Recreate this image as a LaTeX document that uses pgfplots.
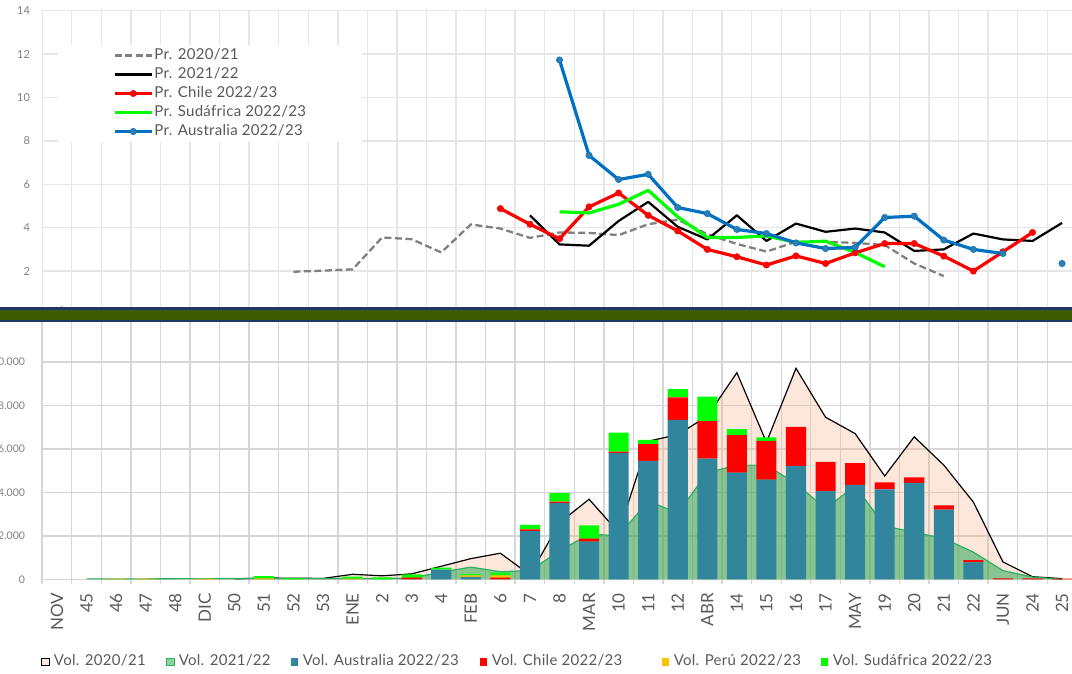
\documentclass[border=0pt]{standalone}
\usepackage{pgfplots}
\usepackage{pgfplotstable}
\pgfplotsset{compat=1.18}
\usepackage{fontspec}
\setmainfont{Lato}
\newfontfamily\legfont{Lato}[LetterSpace=2]

\definecolor{gridtop}{HTML}{E6E6E6}
\definecolor{gridbot}{HTML}{D6D6D6}
\definecolor{ticktxt}{HTML}{808080}
\definecolor{labtxt}{HTML}{595959}
\definecolor{gr2021}{HTML}{808080}
\definecolor{chile}{HTML}{FF0000}
\definecolor{sa}{HTML}{00FF00}
\definecolor{aus}{HTML}{0070C0}
\definecolor{ausmark}{HTML}{2E7FB0}
\definecolor{peachbase}{HTML}{F4B183}
\definecolor{peachlegend}{HTML}{FCE9DB}
\definecolor{vgreenbase}{HTML}{16A34A}
\definecolor{vgreenlegend}{HTML}{8AD1A4}
\definecolor{vgreenline}{HTML}{2EAF62}
\definecolor{tealbar}{HTML}{31859C}
\definecolor{peru}{HTML}{FFC000}
\definecolor{bandnavy}{HTML}{1F3864}
\definecolor{bandgreen}{HTML}{3D5C00}

\newcommand{\LE}[2]{\makebox[#1][l]{\hspace*{4.4pt}#2}}

\pgfplotstableread{
x aus chile peru sa
0 0 0 0 0
1 0 0 0 0
2 0 0 30 0
3 0 0 30 0
4 0 0 0 0
5 0 0 30 0
6 0 0 0 0
7 0 0 40 110
8 0 0 0 40
9 0 0 0 0
10 0 0 30 90
11 0 0 0 90
12 0 80 0 150
13 450 0 0 90
14 110 0 75 60
15 0 75 110 120
16 2220 80 0 200
17 3500 75 0 385
18 1730 140 0 615
19 5800 70 0 870
20 5450 770 0 185
21 7330 1040 0 370
22 5550 1720 0 1130
23 4900 1730 0 275
24 4580 1790 0 155
25 5210 1800 0 0
26 4050 1350 0 0
27 4340 1000 0 0
28 4140 320 0 0
29 4430 260 0 0
30 3200 200 0 0
31 780 105 0 0
32 0 40 0 0
33 0 40 0 0
34 0 30 0 0
}\bars

\pgfplotsset{
  common/.style={
    scale only axis, width=1029.6pt,
    xmin=-0.5, xmax=34.33,
    anchor=south west,
  },
  boxlegend/.style={legend image code/.code={\fill[##1] (0pt,-3.8pt) rectangle (7.6pt,3.8pt);}},
}
\def\bounds{-0.5,0.5,1.5,2.5,3.5,4.5,5.5,6.5,7.5,8.5,9.5,10.5,11.5,12.5,13.5,14.5,15.5,16.5,17.5,18.5,19.5,20.5,21.5,22.5,23.5,24.5,25.5,26.5,27.5,28.5,29.5,30.5,31.5,32.5,33.5}

\begin{document}
\begin{tikzpicture}
% ---------- top panel: prices ----------
\begin{axis}[common,
  at={(42.2pt,358.5pt)}, height=303.8pt,
  ymin=0, ymax=14, ytick={2,4,...,14}, yticklabels={2,4,6,8,10,12,14},
  xtick=\bounds, xticklabels={},
  xmajorgrids, ymajorgrids,
  major grid style={gridtop, line width=1.4pt},
  axis line style={draw=none},
  major tick length=0pt,
  yticklabel style={font=\fontsize{11}{12}\selectfont, text=ticktxt, inner sep=0pt},
  yticklabel shift=12pt,
  unbounded coords=jump,
  legend cell align=left,
  legend image code/.code={\draw[mark repeat=2,mark phase=2,#1] plot coordinates {(0pt,0pt) (18.5pt,0pt) (37pt,0pt)};},
  legend style={at={(0.01535,0.887)}, anchor=north west, fill=white, draw=none,
    inner xsep=55pt, inner ysep=3pt, row sep=4.5pt,
    font=\legfont\fontsize{15}{18}\selectfont, text=labtxt,
    nodes={inner xsep=1pt, inner ysep=0pt, text height=11pt, text depth=3.5pt}},
]
\addplot[gr2021, line width=2.3pt, dash pattern=on 7pt off 3.5pt] coordinates {
(8,1.97)(9,2.02)(10,2.08)(11,3.55)(12,3.47)(13,2.86)(14,4.15)(15,3.96)(16,3.53)(17,3.78)(18,3.76)(19,3.66)(20,4.16)(21,4.37)(22,3.70)(23,3.25)(24,2.90)(25,3.35)(26,3.35)(27,3.30)(28,3.20)(29,2.35)(30,1.77)};
\addlegendentry{Pr. 2020/21}
\addplot[black, line width=2.2pt, line join=round] coordinates {
(16,4.57)(17,3.23)(18,3.17)(19,4.31)(20,5.19)(21,4.04)(22,3.46)(23,4.57)(24,3.39)(25,4.19)(26,3.81)(27,3.96)(28,3.78)(29,2.93)(30,3.00)(31,3.73)(32,3.46)(33,3.39)(34,4.22)};
\addlegendentry{Pr. 2021/22}
\addplot[chile, line width=3.2pt, line join=round, mark=*, mark size=3.2pt, mark options={fill=chile, draw=chile, solid, line width=0.5pt}] coordinates {
(15,4.88)(16,4.16)(17,3.49)(18,4.96)(19,5.60)(20,4.57)(21,3.85)(22,3.00)(23,2.66)(24,2.28)(25,2.70)(26,2.35)(27,2.84)(28,3.27)(29,3.27)(30,2.69)(31,2.00)(32,2.89)(33,3.78)};
\addlegendentry{Pr. Chile 2022/23}
\addplot[sa, line width=3.2pt, line join=round] coordinates {
(17,4.73)(18,4.68)(19,5.08)(20,5.72)(21,4.50)(22,3.55)(23,3.55)(24,3.62)(25,3.32)(26,3.38)(27,2.86)(28,2.20)};
\addlegendentry{Pr. Sudáfrica 2022/23}
\addplot[aus, line width=3.2pt, line join=round, mark=*, mark size=3.2pt, mark options={fill=ausmark, draw=aus, solid, line width=0.5pt}] coordinates {
(17,11.73)(18,7.33)(19,6.22)(20,6.46)(21,4.93)(22,4.65)(23,3.92)(24,3.73)(25,3.30)(26,3.04)(27,3.09)(28,4.47)(29,4.53)(30,3.43)(31,3.00)(32,2.81)(33,nan)(34,2.35)};
\addlegendentry{Pr. Australia 2022/23}
\end{axis}

% ---------- bottom panel: volumes (areas) ----------
\begin{axis}[common,
  at={(42.2pt,93.7pt)}, height=257.3pt,
  ymin=0, ymax=11830, ytick={0,2000,...,10000},
  yticklabels={0,2.000,4.000,6.000,8.000,10.000},
  xtick=\bounds, xticklabels={},
  extra x ticks={0,...,34},
  extra x tick labels={NOV,45,46,47,48,DIC,50,51,52,53,ENE,2,3,4,FEB,6,7,8,MAR,10,11,12,ABR,14,15,16,17,MAY,19,20,21,22,JUN,24,25},
  extra x tick style={grid=none, major tick length=0pt,
    xticklabel style={font=\fontsize{17}{20}\selectfont, text=labtxt, rotate=90, anchor=east, inner sep=0pt}},
  xmajorgrids, ymajorgrids,
  major grid style={gridbot, line width=1.4pt},
  axis x line*=bottom, axis y line*=left,
  x axis line style={gridbot, line width=1.4pt},
  y axis line style={draw=none},
  tick align=outside,
  major tick length=5pt,
  xtick style={gridbot, line width=1.4pt},
  ytick style={draw=none},
  yticklabel style={font=\fontsize{10.5}{12}\selectfont, text=ticktxt, inner sep=0pt},
  yticklabel shift=12pt,
  xticklabel shift=13.7pt,
]
\addplot[fill=peachbase, fill opacity=0.3, draw=none] coordinates {
(6,20)(7,60)(8,50)(9,40)(10,230)(11,160)(12,250)(13,600)(14,950)(15,1200)(16,200)(17,2600)(18,3680)(19,2150)(20,6350)(21,6650)(22,7500)(23,9500)(24,6300)(25,9700)(26,7450)(27,6700)(28,4750)(29,6550)(30,5250)(31,3550)(32,800)(33,120)(34,30)} \closedcycle;
\addplot[black, line width=1.2pt] coordinates {
(6,20)(7,60)(8,50)(9,40)(10,230)(11,160)(12,250)(13,600)(14,950)(15,1200)(16,200)(17,2600)(18,3680)(19,2150)(20,6350)(21,6650)(22,7500)(23,9500)(24,6300)(25,9700)(26,7450)(27,6700)(28,4750)(29,6550)(30,5250)(31,3550)(32,800)(33,120)(34,30)};
\addplot[fill=vgreenbase, fill opacity=0.5, draw=none] coordinates {
(1,20)(2,20)(3,20)(4,30)(5,30)(6,40)(7,40)(8,40)(9,40)(10,40)(11,40)(12,60)(13,330)(14,560)(15,350)(16,400)(17,1300)(18,2080)(19,2000)(20,3600)(21,3050)(22,4900)(23,5250)(24,5250)(25,4400)(26,3250)(27,4300)(28,2450)(29,2160)(30,1880)(31,1250)(32,400)(33,100)(34,0)} \closedcycle;
\addplot[vgreenline, line width=1.2pt] coordinates {
(1,20)(2,20)(3,20)(4,30)(5,30)(6,40)(7,40)(8,40)(9,40)(10,40)(11,40)(12,60)(13,330)(14,560)(15,350)(16,400)(17,1300)(18,2080)(19,2000)(20,3600)(21,3050)(22,4900)(23,5250)(24,5250)(25,4400)(26,3250)(27,4300)(28,2450)(29,2160)(30,1880)(31,1250)(32,400)(33,100)(34,0)};
\end{axis}

% ---------- bottom panel: stacked bars ----------
\begin{axis}[common,
  at={(42.2pt,93.7pt)}, height=257.3pt,
  ymin=0, ymax=11830,
  hide axis,
  ybar stacked, bar width=0.68,
  legend columns=6,
  legend style={at={(-0.0012,-0.3214)}, anchor=west, draw=none, fill=none, inner sep=0pt,
    font=\legfont\fontsize{15}{18}\selectfont, text=labtxt, column sep=0pt,
    nodes={inner xsep=0pt, inner ysep=0pt, text height=11pt, text depth=3.5pt}},
]
\addlegendimage{boxlegend, fill=peachlegend, draw=black, line width=0.8pt}
\addlegendentry{\LE{116.4pt}{Vol. 2020/21}}
\addlegendimage{boxlegend, fill=vgreenlegend, draw=vgreenline, line width=0.8pt}
\addlegendentry{\LE{116.4pt}{Vol. 2021/22}}
\addplot[boxlegend, fill=tealbar, draw=none] table[x=x, y=aus] {\bars};
\addlegendentry{\LE{181.4pt}{Vol. Australia 2022/23}}
\addplot[boxlegend, fill=chile, draw=none] table[x=x, y=chile] {\bars};
\addlegendentry{\LE{174.4pt}{Vol. Chile 2022/23}}
\addplot[boxlegend, fill=peru, draw=none] table[x=x, y=peru] {\bars};
\addlegendentry{\LE{151.4pt}{Vol. Perú 2022/23}}
\addplot[boxlegend, fill=sa, draw=none] table[x=x, y=sa] {\bars};
\addlegendentry{\LE{170pt}{Vol. Sudáfrica 2022/23}}
\end{axis}

% ---------- separator band ----------
\fill[bandnavy] (0pt,351pt) rectangle (1072pt,365.7pt);
\fill[bandgreen] (0pt,353pt) rectangle (1072pt,363pt);

\pgfresetboundingbox
\useasboundingbox (0pt,0pt) rectangle (1072pt,673pt);
\end{tikzpicture}
\end{document}
